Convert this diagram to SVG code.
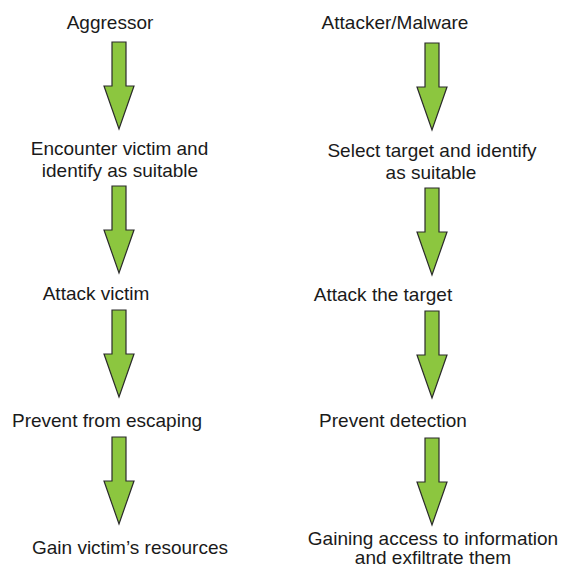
<svg xmlns="http://www.w3.org/2000/svg" xmlns:xlink="http://www.w3.org/1999/xlink" width="570" height="568" viewBox="0 0 570 568">
<style>
  text { font-family: "Liberation Sans", Arial, sans-serif; font-size: 19px; fill: #1a1a1a; text-anchor: middle; }
  .arrow { fill: #8cc63f; stroke: #2b2b2b; stroke-width: 1.2; stroke-linejoin: miter; }
</style>
<defs>
  <path id="down" d="M-7,0 H7 V44 H15 L0,87 L-15,44 H-7 Z"/>
</defs>
<rect width="570" height="568" fill="#ffffff"/>
<g id="connectors">
  <use xlink:href="#down" href="#down" class="arrow" transform="translate(119,42)"/>
  <use xlink:href="#down" href="#down" class="arrow" transform="translate(119,186)"/>
  <use xlink:href="#down" href="#down" class="arrow" transform="translate(119,310)"/>
  <use xlink:href="#down" href="#down" class="arrow" transform="translate(119,437)"/>
  <use xlink:href="#down" href="#down" class="arrow" transform="translate(432,43)"/>
  <use xlink:href="#down" href="#down" class="arrow" transform="translate(432,188)"/>
  <use xlink:href="#down" href="#down" class="arrow" transform="translate(432,311)"/>
  <use xlink:href="#down" href="#down" class="arrow" transform="translate(432,438)"/>
</g>
<g id="aggressor"><text x="110" y="29">Aggressor</text></g>
<g id="encounter"><text x="119.5" y="155">Encounter victim and</text><text x="120" y="177">identify as suitable</text></g>
<g id="attack-victim"><text x="96" y="300">Attack victim</text></g>
<g id="prevent-escaping"><text x="107" y="427">Prevent from escaping</text></g>
<g id="gain-resources"><text x="130" y="554">Gain victim’s resources</text></g>
<g id="attacker"><text x="395" y="29">Attacker/Malware</text></g>
<g id="select-target"><text x="432" y="157">Select target and identify</text><text x="431" y="179">as suitable</text></g>
<g id="attack-target"><text x="383" y="301">Attack the target</text></g>
<g id="prevent-detection"><text x="393" y="427">Prevent detection</text></g>
<g id="gaining-access"><text x="433" y="545">Gaining access to information</text><text x="433" y="564">and exfiltrate them</text></g>
</svg>
